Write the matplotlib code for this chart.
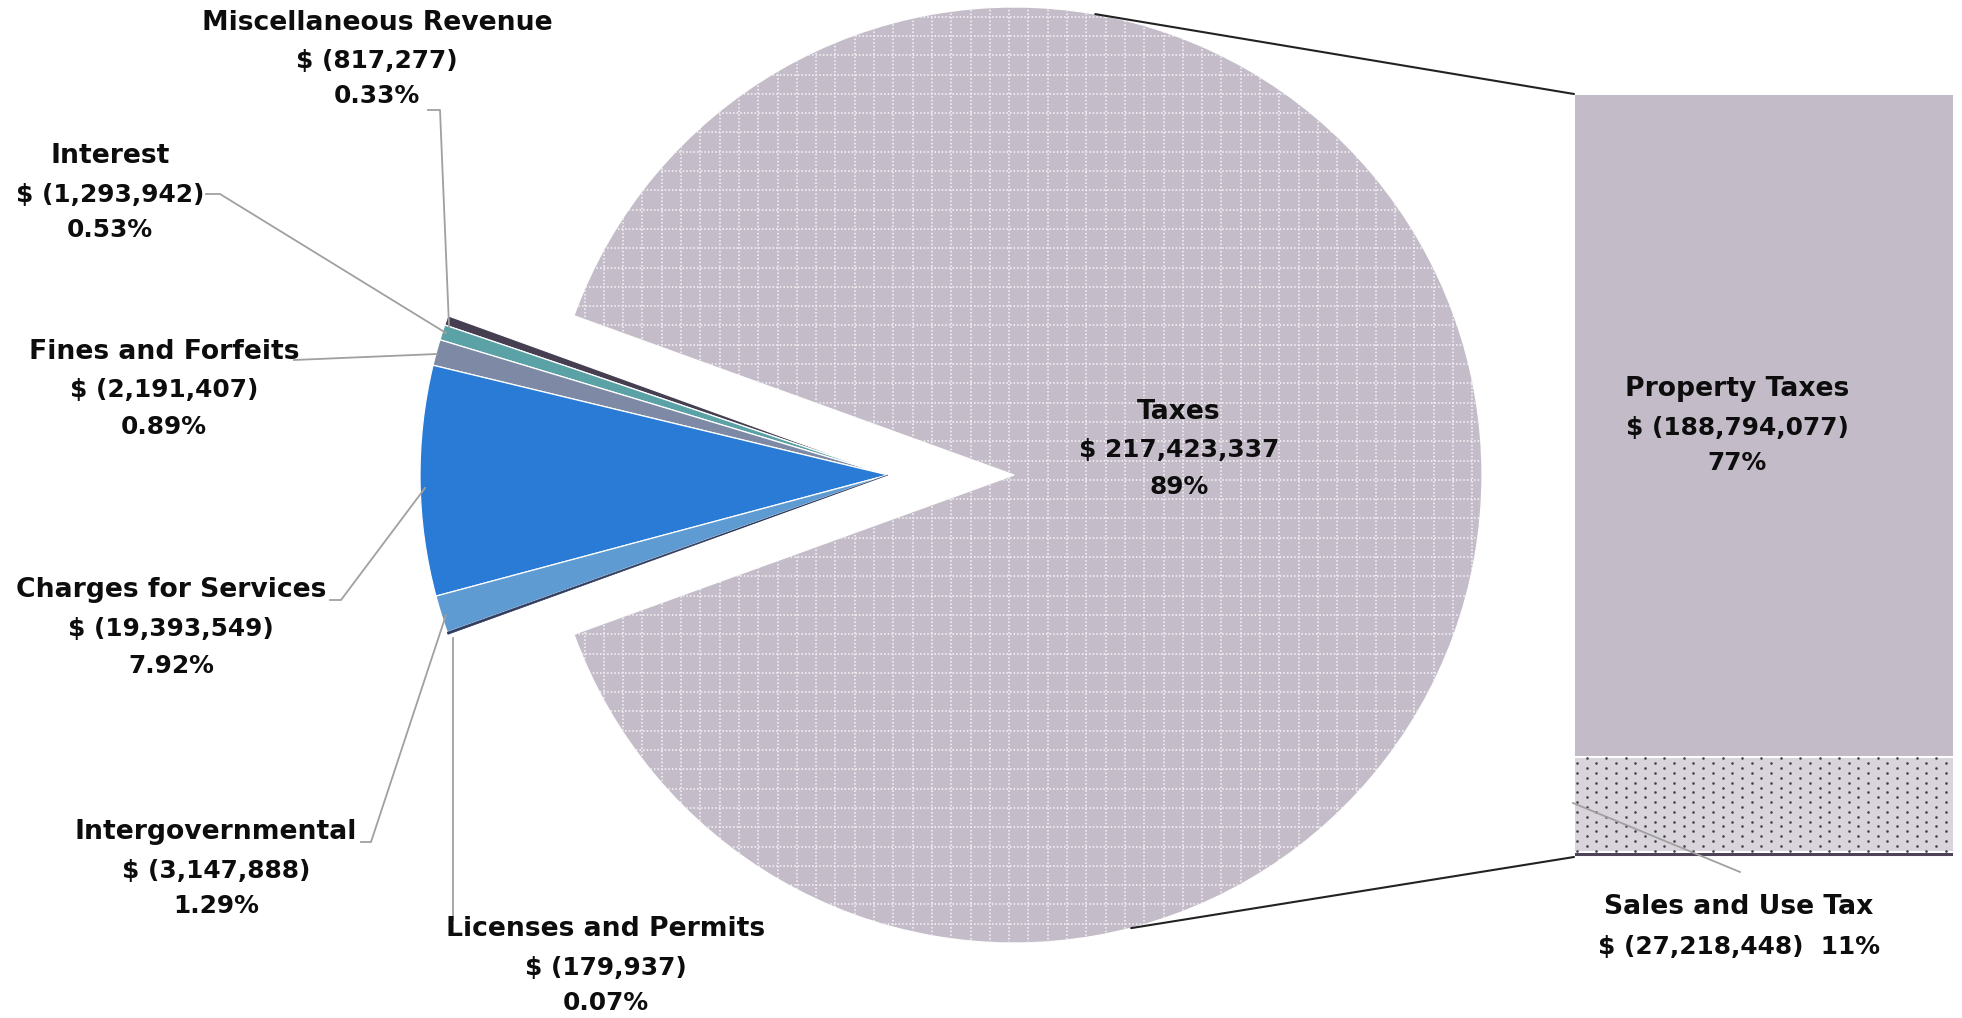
import numpy as np
import matplotlib
matplotlib.use("Agg")
import matplotlib.pyplot as plt

# ---------------- data ----------------
pie_categories = ["Taxes", "Miscellaneous Revenue", "Interest", "Fines and Forfeits",
                  "Charges for Services", "Intergovernmental", "Licenses and Permits"]
pie_values = [217423337, 817277, 1293942, 2191407, 19393549, 3147888, 179937]
pie_amounts = ["$ 217,423,337", "$ (817,277)", "$ (1,293,942)", "$ (2,191,407)",
               "$ (19,393,549)", "$ (3,147,888)", "$ (179,937)"]
pie_percents = ["89%", "0.33%", "0.53%", "0.89%", "7.92%", "1.29%", "0.07%"]

bar_categories = ["Other Taxes", "Sales and Use Tax", "Property Taxes"]
bar_values = [1410812, 27218448, 188794077]
bar_amounts = ["", "$ (27,218,448)", "$ (188,794,077)"]
bar_percents = ["", "11%", "77%"]

# ---------------- style / layout ----------------
W, H = 1962, 1018


def Y(y):
    return H - y


pie_colors = ["#c4bcc8", "#463f52", "#5aa2a6", "#7e89a5", "#2a7bd6", "#5e9bd2", "#2c3a5e"]
bar_colors = ["#4e4358", "#d9d4dc", "#c3bbc8"]
FONT = "DejaVu Sans"
FS = 19.2
FS_NUM = 17.9
LEADER = "#a0a0a0"

fig = plt.figure(figsize=(W / 100, H / 100), dpi=100)
ax = fig.add_axes([0, 0, 1, 1])
R = 468
PCX, PCY = 888, Y(475)
EXPLODE = 126
start = -180.0 * pie_values[0] / sum(pie_values)
wedges, _ = ax.pie(pie_values, colors=pie_colors, startangle=start, counterclock=True,
                   radius=R, center=(PCX, PCY), explode=[EXPLODE] + [0] * (len(pie_values) - 1),
                   wedgeprops=dict(edgecolor="white", linewidth=0.9))
wedges[-1].set_edgecolor(pie_colors[-1])
wedges[-1].set_linewidth(0.5)
ax.set_xlim(0, W)
ax.set_ylim(0, H)
ax.axis("off")

# ---------------- bar of pie ----------------
BX0, BX1, BYB, BYT = 1574, 1954, 857, 94
bax = fig.add_axes([BX0 / W, Y(BYB) / H, (BX1 - BX0) / W, (BYB - BYT) / H])
bottoms = np.concatenate([[0], np.cumsum(bar_values)[:-1]])
bars = bax.bar(0, bar_values, width=1.0, bottom=bottoms, color=bar_colors,
               edgecolor="white", linewidth=1.4)
bax.set_xlim(-0.5, 0.5)
bax.set_ylim(0, sum(bar_values))
bax.axis("off")

# ---------------- overlay (textures, lines, text) ----------------
ov = fig.add_axes([0, 0, 1, 1], zorder=5)
ov.set_xlim(0, W)
ov.set_ylim(0, H)
ov.axis("off")
ov.patch.set_visible(False)

# dotted white grid texture on the Taxes slice
tcx = PCX + EXPLODE
step = 19.3
for g in np.arange(tcx - R, tcx + R + 1, step):
    l1, = ov.plot([g, g], [PCY - R, PCY + R], color="#efecf1", lw=1.4, ls=(0, (0.75, 1.1)))
    l1.set_clip_path(wedges[0])
for g in np.arange(PCY - R, PCY + R + 1, step):
    l2, = ov.plot([tcx - R, tcx + R], [g, g], color="#efecf1", lw=1.4, ls=(0, (0.75, 1.1)))
    l2.set_clip_path(wedges[0])

# dot texture on the Sales and Use Tax segment
dx = 9.7
xs_all, ys_all = [], []
for i, xx in enumerate(np.arange(BX0 + 3, BX1, dx)):
    off = 0 if i % 2 == 0 else dx / 2
    for yy in np.arange(BYT + off, BYB, dx):
        xs_all.append(xx)
        ys_all.append(Y(yy))
sc = ov.scatter(xs_all, ys_all, s=3.6, color="#4a4050", linewidths=0)
sc.set_clip_path(bars[1])

# connector lines pie -> bar
for ang, by in [(80.0, BYT), (-75.5, BYB)]:
    a = np.deg2rad(ang)
    ov.plot([tcx + R * np.cos(a), BX0], [PCY + R * np.sin(a), Y(by)], color="#222222", lw=1.5,
            solid_capstyle="round")


def label(cx, ys, lines, sizes):
    for yy, t, fs in zip(ys, lines, sizes):
        ov.text(cx, Y(yy), t, ha="center", va="center", fontsize=fs, fontweight="bold",
                family=FONT, color="#0d0d0d")


# pie labels (positions in pixels)
label_pos = {
    "Taxes": (1179, [412, 450, 487]),
    "Miscellaneous Revenue": (377, [23, 61, 96]),
    "Interest": (110, [156, 195, 230]),
    "Fines and Forfeits": (164, [352, 390, 427]),
    "Charges for Services": (171, [590, 629, 666]),
    "Intergovernmental": (216, [832, 871, 906]),
    "Licenses and Permits": (606, [929, 968, 1003]),
}
for cat, amt, pct in zip(pie_categories, pie_amounts, pie_percents):
    cx, ys = label_pos[cat]
    label(cx, ys, [cat, amt, pct], [FS, FS_NUM, FS_NUM])

# bar labels
label(1737, [389, 428, 463], [bar_categories[2], bar_amounts[2], bar_percents[2]],
      [FS, FS_NUM, FS_NUM])
label(1739, [907, 947], [bar_categories[1], bar_amounts[1] + "  " + bar_percents[1]],
      [FS, FS_NUM])

# leader lines
leaders = [
    [(428, 110), (440, 110), (449, 326)],
    [(206, 194), (220, 194), (446, 333)],
    [(294, 360), (437, 354)],
    [(330, 600), (341, 600), (425, 488)],
    [(361, 842), (371, 842), (446, 615)],
    [(453, 920), (453, 638)],
    [(1573, 803), (1740, 872)],
]
for pts in leaders:
    xs = [p[0] for p in pts]
    ys = [Y(p[1]) for p in pts]
    ov.plot(xs, ys, color=LEADER, lw=1.3)

fig.savefig("out.png", dpi=100)
